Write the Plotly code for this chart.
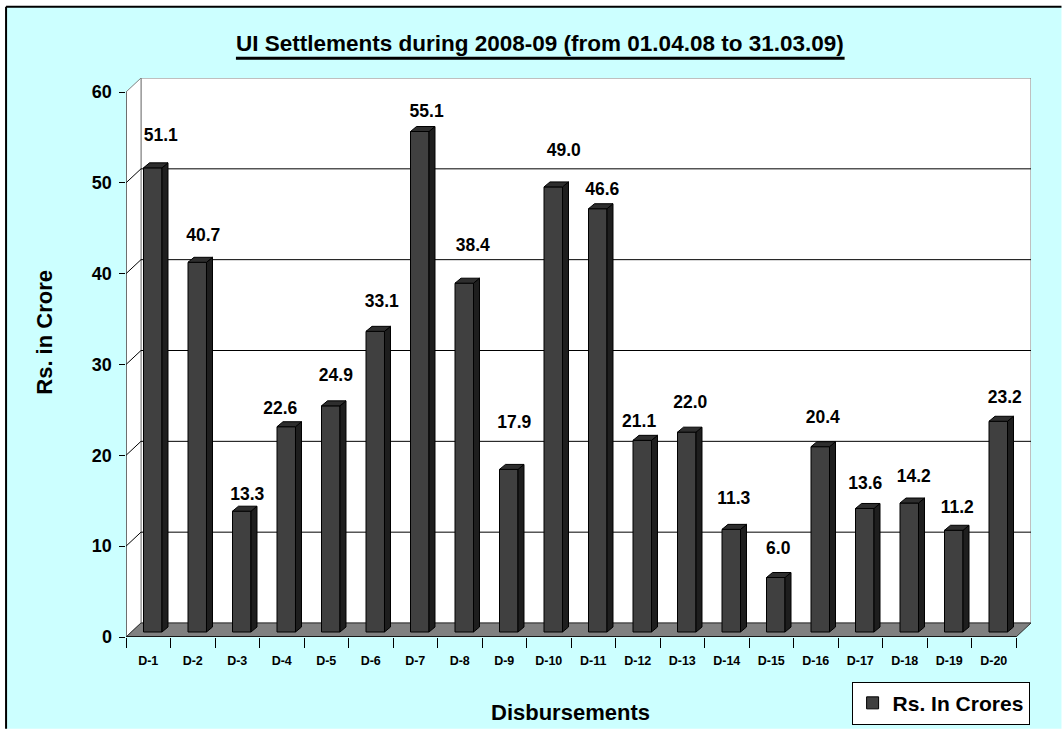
import plotly.graph_objects as go

# ---------------- data ----------------
categories = ["D-1", "D-2", "D-3", "D-4", "D-5", "D-6", "D-7", "D-8", "D-9", "D-10",
              "D-11", "D-12", "D-13", "D-14", "D-15", "D-16", "D-17", "D-18", "D-19", "D-20"]
values = [51.1, 40.7, 13.3, 22.6, 24.9, 33.1, 55.1, 38.4, 17.9, 49.0,
          46.6, 21.1, 22.0, 11.3, 6.0, 20.4, 13.6, 14.2, 11.2, 23.2]
y_ticks = [0, 10, 20, 30, 40, 50, 60]
series_name = "Rs. In Crores"
title_text = "UI Settlements during 2008-09 (from 01.04.08 to 31.03.09)"
y_title = "Rs. in Crore"
x_title = "Disbursements"

# ---------------- layout geometry / styling (window pixels) ----------------
W, H = 1062, 729
PLOT_LEFT, PLOT_RIGHT, PLOT_TOP, PLOT_BOTTOM = 126, 1031.5, 78.3, 637.3
L = PLOT_LEFT
R = W - PLOT_RIGHT
T = PLOT_TOP
B = H - PLOT_BOTTOM
plot_w = W - L - R
plot_h = H - T - B
n = len(categories)
y_max = 60
wall_dx_px, wall_dy_px = 15.0, 14.0
px_x = (plot_w - wall_dx_px) / n
px_y = (plot_h - wall_dy_px) / y_max
DX = wall_dx_px / px_x
DY = wall_dy_px / px_y

bar_shift = 4.5 / px_x      # front face shift to the right
bar_w = 18.5 / px_x
bar_by = 5.0 / px_y         # front face lifted
side_x = 6.0 / px_x
side_y = 5.0 / px_y

# manual data-label placement (px), as in the reference
label_dx_px = [12.6, 10.6, 10, -1.5, 9.6, 11, 11.4, 13, 10, 15, 9, 1.4, 8, 7, 7, 7, 5, 9, 8, 11]
label_gap_px = [20, 14, 4.5, 6, 17.7, 17, 7, 25, 34, 24, 7, 6, 17, 18, 16, 17, 12, 14, 10, 11]

FONT = "Liberation Sans, Arial, sans-serif"
BG = "#CCFFFF"


def px2paper(px, py):
    return (px - L) / plot_w, (H - B - py) / plot_h


# ---------------- traces ----------------
centers = [i + 0.5 for i in range(n)]
front_x = [c + bar_shift for c in centers]

fig = go.Figure()

fig.add_trace(go.Bar(
    x=front_x, y=values, base=[bar_by] * n, width=bar_w,
    marker=dict(color="#404040", line=dict(color="black", width=1)),
    name=series_name, showlegend=True, hoverinfo="skip",
))

side_xs, side_ys, top_xs, top_ys = [], [], [], []
for fx, v in zip(front_x, values):
    x0 = fx - bar_w / 2
    x1 = fx + bar_w / 2
    y0 = bar_by
    y1 = v + bar_by
    side_xs += [x1, x1 + side_x, x1 + side_x, x1, x1, None]
    side_ys += [y0, y0 + side_y, y1 + side_y, y1, y0, None]
    top_xs += [x0, x0 + side_x, x1 + side_x, x1, x0, None]
    top_ys += [y1, y1 + side_y, y1 + side_y, y1, y1, None]

fig.add_trace(go.Scatter(x=side_xs, y=side_ys, mode="lines", fill="toself",
                         fillcolor="#1e1e1e", line=dict(color="black", width=1),
                         showlegend=False, hoverinfo="skip"))
fig.add_trace(go.Scatter(x=top_xs, y=top_ys, mode="lines", fill="toself",
                         fillcolor="#2e2e2e", line=dict(color="black", width=1),
                         showlegend=False, hoverinfo="skip"))

lab_x = [c + dx / px_x for c, dx in zip(centers, label_dx_px)]
lab_y = [v + (10 + g + 6.5) / px_y for v, g in zip(values, label_gap_px)]
fig.add_trace(go.Scatter(x=lab_x, y=lab_y, mode="text",
                         text=[f"{v:.1f}" for v in values],
                         textposition="middle center",
                         textfont=dict(family=FONT, size=17.5, color="black", weight="bold"),
                         showlegend=False, hoverinfo="skip", cliponaxis=False))

# ---------------- shapes (background, walls, floor, grid) ----------------
shapes = []
bx0, by0 = px2paper(6, 7)
bx1, by1 = px2paper(W, H)
shapes.append(dict(type="rect", xref="paper", yref="paper", x0=bx0, y0=by1, x1=bx1, y1=by0,
                   fillcolor=BG, line=dict(width=0), layer="below"))
# chart frame: only top and left edges are visible in the reference
shapes.append(dict(type="line", xref="paper", yref="paper", x0=bx0, y0=by0, x1=bx1, y1=by0,
                   line=dict(color="black", width=2), layer="below"))
shapes.append(dict(type="line", xref="paper", yref="paper", x0=bx0, y0=by0, x1=bx0, y1=by1,
                   line=dict(color="black", width=2), layer="below"))
# back wall
shapes.append(dict(type="rect", xref="x", yref="y", x0=DX, y0=DY, x1=n + DX, y1=y_max + DY,
                   fillcolor="white", line=dict(color="#808080", width=1), layer="below"))
# left wall
shapes.append(dict(type="path", xref="x", yref="y",
                   path=f"M 0,0 L {DX},{DY} L {DX},{y_max + DY} L 0,{y_max} Z",
                   fillcolor="white", line=dict(color="#808080", width=1), layer="below"))
# gridlines
for v in y_ticks[1:-1]:
    shapes.append(dict(type="line", xref="x", yref="y", x0=DX, y0=v + DY, x1=n + DX, y1=v + DY,
                       line=dict(color="black", width=1), layer="below"))
    shapes.append(dict(type="line", xref="x", yref="y", x0=0, y0=v, x1=DX, y1=v + DY,
                       line=dict(color="black", width=1), layer="below"))
# floor
shapes.append(dict(type="path", xref="x", yref="y",
                   path=f"M 0,0 L {n},0 L {n + DX},{DY} L {DX},{DY} Z",
                   fillcolor="#808080", line=dict(color="#303030", width=1), layer="below"))
# front axis edges
shapes.append(dict(type="line", xref="x", yref="y", x0=0, y0=0, x1=n, y1=0,
                   line=dict(color="black", width=1.5), layer="below"))
shapes.append(dict(type="line", xref="x", yref="y", x0=0, y0=0, x1=0, y1=y_max,
                   line=dict(color="#202020", width=1), layer="below"))
# title underline
ux0, uy = px2paper(236, 58.5)
ux1, _ = px2paper(845, 58.5)
shapes.append(dict(type="line", xref="paper", yref="paper", x0=ux0, y0=uy, x1=ux1, y1=uy,
                   line=dict(color="black", width=3)))

# ---------------- annotations ----------------
annotations = []
tx, ty = px2paper(540.5, 44)
annotations.append(dict(text=title_text, x=tx, y=ty, xref="paper", yref="paper",
                        xanchor="center", yanchor="middle", showarrow=False,
                        font=dict(family=FONT, size=22.5, color="black", weight="bold")))
yx, yy = px2paper(45, 333)
annotations.append(dict(text=y_title, x=yx, y=yy, xref="paper", yref="paper", textangle=-90,
                        xanchor="center", yanchor="middle", showarrow=False,
                        font=dict(family=FONT, size=22, color="black", weight="bold")))
xx, xy = px2paper(571, 713)
annotations.append(dict(text=x_title, x=xx, y=xy, xref="paper", yref="paper",
                        xanchor="center", yanchor="middle", showarrow=False,
                        font=dict(family=FONT, size=22, color="black", weight="bold")))

lx, ly = px2paper(852, 725)

fig.update_layout(
    width=W, height=H,
    margin=dict(l=L, r=R, t=T, b=B, pad=0, autoexpand=False),
    paper_bgcolor="white", plot_bgcolor="rgba(0,0,0,0)",
    shapes=shapes, annotations=annotations,
    showlegend=True,
    legend=dict(x=lx, y=ly, xanchor="left", yanchor="bottom",
                bgcolor="white", bordercolor="black", borderwidth=1,
                font=dict(family=FONT, size=21, color="black", weight="bold")),
    xaxis=dict(range=[0, n + DX], showgrid=False, zeroline=False, showline=False,
               tickmode="array", tickvals=centers, ticktext=categories, ticks="",
               ticklabelstandoff=14,
               tickfont=dict(family=FONT, size=12.5, color="black", weight="bold"),
               minor=dict(tickmode="array", tickvals=list(range(n + 1)), ticks="outside",
                          ticklen=9.5, tickwidth=1, tickcolor="black", showgrid=False),
               fixedrange=True),
    yaxis=dict(range=[0, y_max + DY], showgrid=False, zeroline=False, showline=False,
               tickmode="array", tickvals=y_ticks, ticks="outside", ticklen=6.5,
               tickwidth=1, tickcolor="black", ticklabelstandoff=3,
               tickfont=dict(family=FONT, size=18, color="black", weight="bold"),
               fixedrange=True),
    bargap=0,
)

# page without the default body margin / scrollbars so the 1062x729 figure fills the window
fig.write_html(
    "out.html",
    config={"displayModeBar": False, "staticPlot": True},
    post_script=("document.body.style.margin='0px';"
                 "document.body.style.overflow='hidden';"
                 "document.documentElement.style.overflow='hidden';"),
)
